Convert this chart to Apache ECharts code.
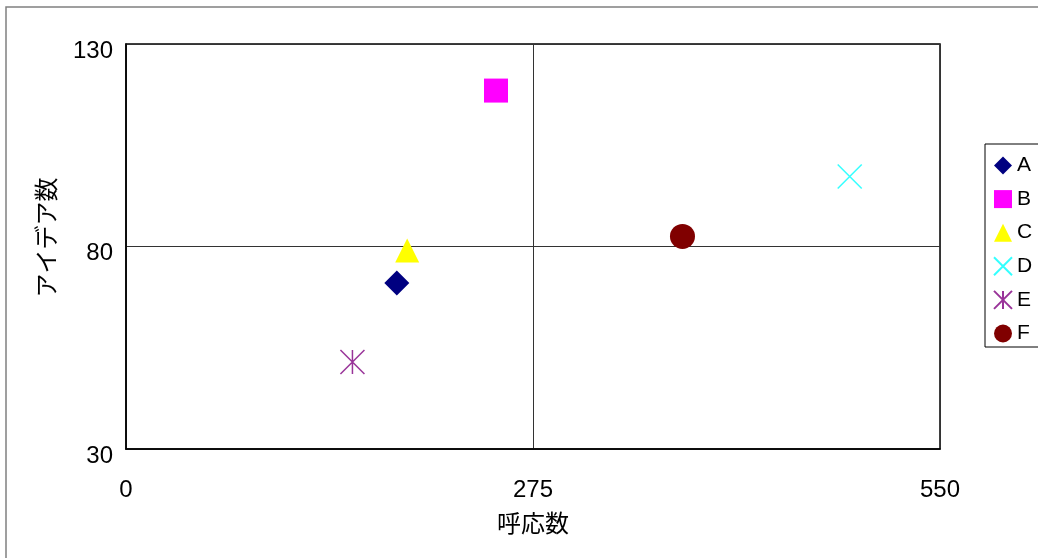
<!DOCTYPE html>
<html>
<head>
<meta charset="utf-8">
<script src="https://cdn.jsdelivr.net/npm/echarts@6/dist/echarts.min.js"></script>
<style>
  html, body { margin: 0; padding: 0; background: #fff; }
  #chart { width: 1038px; height: 558px; }
</style>
</head>
<body>
<div id="chart"></div>
<script>
// data
var names = ['A', 'B', 'C', 'D', 'E', 'F'];
var responses = [183, 250, 190, 489, 153, 376];   // 呼応数
var ideas = [71, 118.5, 79, 97.3, 51.5, 82.5];    // アイデア数
var colors = ['#000080', '#ff00ff', '#ffff00', '#00ffff', '#800080', '#800000'];
var xTicks = [0, 275, 550];
var yTicks = [30, 80, 130];

var crossPath = 'path://M0,0L10,10M10,0L0,10';
var starPath = 'path://M0,0L10,10M10,0L0,10M5,0L5,10';
var symbols = ['diamond', 'rect', 'triangle', crossPath, starPath, 'circle'];
var sizes = [25, 24, 24, 24, 24, 25];

var myChart = echarts.init(document.getElementById('chart'));

var series = names.map(function (n, i) {
    var lineMark = i == 3 || i == 4;
    return {
        name: n,
        type: 'scatter',
        symbol: symbols[i],
        symbolSize: sizes[i],
        data: [[responses[i], ideas[i]]],
        itemStyle: lineMark ? {
            color: 'rgba(0,0,0,0)',
            borderColor: colors[i],
            borderWidth: 1.5
        } : { color: colors[i], opacity: 1 },
        emphasis: { disabled: true }
    };
});

var option = {
    animation: false,
    backgroundColor: '#fff',
    textStyle: { fontFamily: 'Liberation Sans, Arial, sans-serif' },
    graphic: [{
        type: 'rect',
        shape: { x: 6, y: 7, width: 1200, height: 700 },
        style: { fill: 'none', stroke: '#808080', lineWidth: 1.5 },
        silent: true
    }],
    grid: {
        left: 126, top: 44, width: 814, height: 405,
        show: true,
        borderColor: '#000',
        borderWidth: 1.5
    },
    legend: {
        orient: 'vertical',
        left: 985, top: 144,
        width: 60,
        padding: [11, 20, 3, 8],
        itemWidth: 18, itemHeight: 18,
        itemGap: 12.6,
        borderColor: '#000',
        borderWidth: 1,
        backgroundColor: '#fff',
        textStyle: { fontSize: 21, color: '#000', fontFamily: 'Liberation Sans, Arial, sans-serif' },
        data: names
    },
    xAxis: {
        type: 'value',
        min: xTicks[0], max: xTicks[2], interval: xTicks[1] - xTicks[0],
        name: '呼応数',
        nameLocation: 'middle',
        nameGap: 62,
        nameTextStyle: { fontSize: 24, color: '#000', fontFamily: 'Noto Sans CJK JP' },
        axisLine: { lineStyle: { color: '#000', width: 1.5 } },
        axisTick: { show: false },
        axisLabel: { fontSize: 24, color: '#000', margin: 29 },
        splitLine: { lineStyle: { color: '#333', width: 1 } }
    },
    yAxis: {
        type: 'value',
        min: yTicks[0], max: yTicks[2], interval: yTicks[1] - yTicks[0],
        name: 'アイデア数',
        nameLocation: 'middle',
        nameRotate: 90,
        nameGap: 68,
        nameTextStyle: { fontSize: 24, color: '#000', fontFamily: 'Noto Sans CJK JP', padding: [0, 0, 0, 18] },
        axisLine: { lineStyle: { color: '#000', width: 1.5 } },
        axisTick: { show: false },
        axisLabel: {
            margin: 13,
            formatter: '{v|{value}}',
            rich: { v: { fontSize: 24, color: '#000', padding: [14, 0, 0, 0] } }
        },
        splitLine: { lineStyle: { color: '#333', width: 1 } }
    },
    series: series
};
myChart.setOption(option);
</script>
</body>
</html>
